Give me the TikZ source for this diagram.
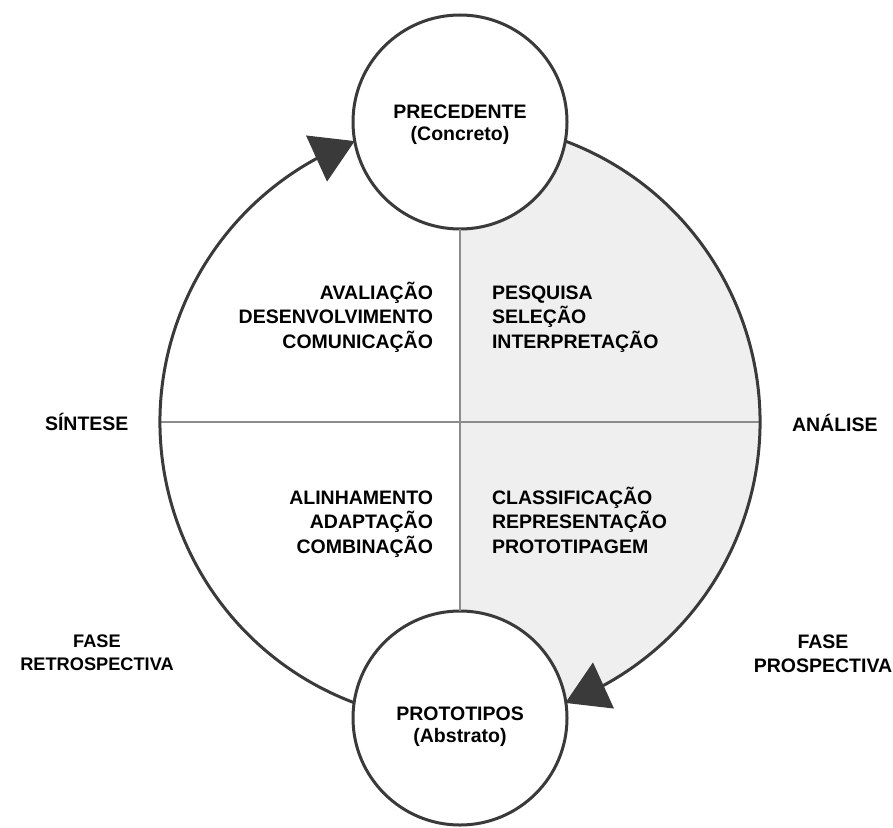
\documentclass[tikz,border=0pt]{standalone}
\usepackage{fontspec}
\setmainfont{Liberation Sans}
\usetikzlibrary{arrows.meta,bending}
\definecolor{ink}{HTML}{3A3A3A}
\definecolor{rulegray}{HTML}{8C8C8C}
\definecolor{halffill}{HTML}{EFEFEF}
% stacked lines with a fixed baseline distance; the first line is the baseline
\newcommand{\rightlines}[1]{\vtop{\halign{\hfil##\cr#1\crcr}}}
\newcommand{\leftlines}[1]{\vtop{\halign{##\hfil\cr#1\crcr}}}
\newcommand{\centerlines}[1]{\vtop{\halign{\hfil##\hfil\cr#1\crcr}}}
\begin{document}
\begin{tikzpicture}[x=1pt,y=1pt,
  phase/.style={circle, draw=ink, line width=3pt, fill=white,
    minimum size=214pt, inner sep=0pt, outer sep=0pt},
  cyclearc/.style={draw=ink, line width=3pt,
    -{Triangle[length=42pt,width=50pt]}},
  divider/.style={draw=rulegray, line width=1.8pt},
  lbl/.style={inner sep=0pt, outer sep=0pt,
    font=\fontsize{19.5}{24.5}\selectfont\bfseries},
  circlbl/.style={lbl, font=\fontsize{19.5}{22}\selectfont\bfseries},
  sidelbl/.style={lbl, font=\fontsize{18.2}{23}\selectfont\bfseries},
]
\useasboundingbox (0,0) rectangle (893,-827);
\coordinate (O) at (460,-422);
\path (O) ++(180:300) coordinate (W)
      (O) ++(0:300)   coordinate (E)
      (O) ++(249.454:300) coordinate (bl)
      (O) ++(110.546:300) coordinate (tl)
      (O) ++(69.454:300)  coordinate (tr)
      (O) ++(-69.454:300) coordinate (br);

% grey analysis half
\fill[fill=halffill] (460,-122) arc[start angle=90,end angle=-90,radius=300] -- cycle;

% phase circles
\node[phase] (prec)  at (460,-122) {};
\node[phase] (proto) at (460,-718) {};

% quadrant dividers
\draw[divider] (prec.south) -- (proto.north);
\draw[divider] (W) -- (E);

% cycle arcs
\draw[cyclearc] (bl) arc[start angle=249.454, end angle=110.546, radius=300];
\draw[cyclearc] (tr) arc[start angle=69.454, end angle=-69.454, radius=300];

% circle texts
\node[circlbl, anchor=base] (prectxt) at (460,-118)
  {\centerlines{PRECEDENTE\cr (Concreto)}};
\node[circlbl, anchor=base] (prototxt) at (460,-720)
  {\centerlines{PROTOTIPOS\cr (Abstrato)}};

% quadrant texts
\node[lbl, anchor=base east] (q1) at (433,-299)
  {\rightlines{AVALIAÇÃO\cr DESENVOLVIMENTO\cr COMUNICAÇÃO}};
\node[lbl, anchor=base west] (q2) at (492,-299)
  {\leftlines{PESQUISA\cr SELEÇÃO\cr INTERPRETAÇÃO}};
\node[lbl, anchor=base east] (q3) at (433,-504)
  {\rightlines{ALINHAMENTO\cr ADAPTAÇÃO\cr COMBINAÇÃO}};
\node[lbl, anchor=base west] (q4) at (492,-504)
  {\leftlines{CLASSIFICAÇÃO\cr REPRESENTAÇÃO\cr PROTOTIPAGEM}};

% side texts
\node[lbl, anchor=base west] (sint) at (45,-430) {SÍNTESE};
\node[lbl, anchor=base west] (anal) at (792,-431) {ANÁLISE};
\node[sidelbl, anchor=base] (retro) at (97,-647)
  {\centerlines{FASE\cr RETROSPECTIVA}};
\node[lbl, anchor=base] (prosp) at (823,-648)
  {\centerlines{FASE\cr PROSPECTIVA}};
\end{tikzpicture}
\end{document}
